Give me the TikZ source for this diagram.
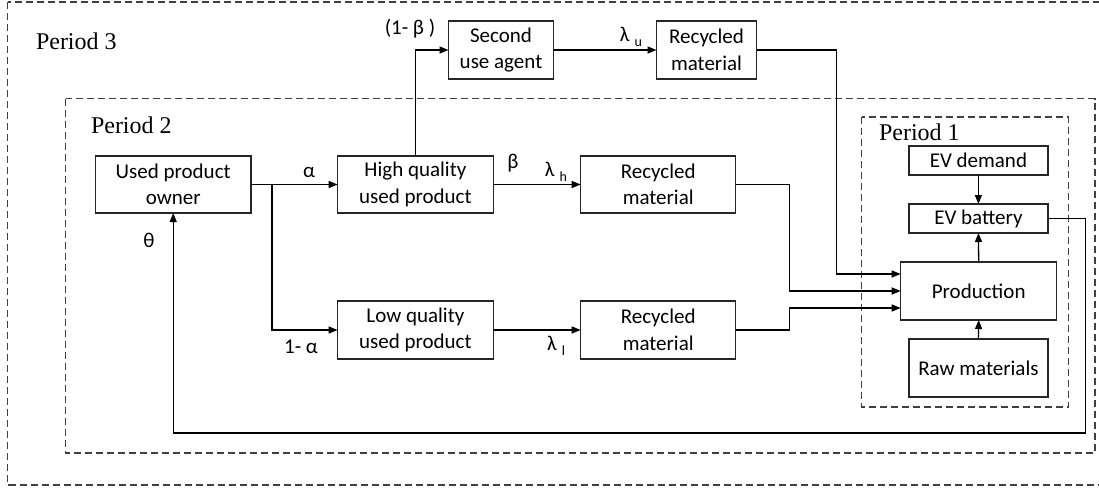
\documentclass[tikz,border=0pt]{standalone}
\usepackage{fontspec}
\setmainfont{Liberation Serif}
\newfontfamily\boxfont{Carlito}
\usetikzlibrary{arrows.meta,calc}
\begin{document}
\begin{tikzpicture}[x=1pt,y=-1pt,
  every node/.style={inner sep=0pt, outer sep=0pt},
  blk/.style={draw=black!85, line width=1.2pt, align=center, font=\boxfont\fontsize{21}{26.5}\selectfont, fill=white},
  period/.style={draw=black!75, line width=1.1pt, dash pattern=on 7pt off 4pt},
  plabel/.style={anchor=west, font=\fontsize{24}{28}\selectfont},
  glabel/.style={font=\boxfont\fontsize{21}{24}\selectfont},
  conn/.style={line width=1.3pt},
  arr/.style={conn, -{Triangle[length=9pt,width=7pt]}}
]
\useasboundingbox (0,0) rectangle (1099,488);
\fill[white] (0,0) rectangle (1099,488);
% period frames
\draw[period] (7.5,2) rectangle (1110,485);
\draw[period] (65.6,98.5) rectangle (1095,453);
\draw[period] (861.6,117) rectangle (1068.2,407);
\node[plabel] (p3) at (36,41) {Period 3};
\node[plabel] (p2) at (91,125) {Period 2};
\node[plabel] (p1) at (879,132) {Period 1};
% blocks
\node[blk, minimum width=155.6pt, minimum height=57pt] (owner) at (173.2,184.5) {Used product\\owner};
\node[blk, minimum width=155.6pt, minimum height=57pt] (hq) at (415.4,184.5) {High quality\\used product};
\node[blk, minimum width=105pt, minimum height=58pt] (sua) at (501,50) {Second\\use agent};
\node[blk, minimum width=100pt, minimum height=58pt] (rt) at (706.5,50) {Recycled\\material};
\node[blk, minimum width=155pt, minimum height=57pt] (rm) at (658.2,184.5) {Recycled\\material};
\node[blk, minimum width=155.6pt, minimum height=58pt] (lq) at (415.4,330) {Low quality\\used product};
\node[blk, minimum width=155pt, minimum height=58pt] (rl) at (658.2,330) {Recycled\\material};
\node[blk, minimum width=139pt, minimum height=29pt] (evd) at (978.4,160.5) {EV demand};
\node[blk, minimum width=139pt, minimum height=29pt] (evb) at (978.4,218.5) {EV battery};
\node[blk, minimum width=156pt, minimum height=58pt] (prod) at (978.7,291) {Production};
\node[blk, minimum width=139pt, minimum height=58pt] (raw) at (978.4,368) {Raw materials};
% helper coordinates
\coordinate (br) at (272,184.5);
\coordinate (pin1) at ([yshift=17pt]prod.west);
\coordinate (pin3) at ([yshift=-17pt]prod.west);
\coordinate (v1) at (836.4,274);
\coordinate (v2) at (789.8,291);
\coordinate (v3) at (789.8,308);
\coordinate (fb) at (1085.7,433);
% connectors
\draw[arr] (owner.east) -- (hq.west);
\draw[arr] (br) |- (lq.west);
\draw[arr] (hq.north) |- (sua.west);
\draw[arr] (sua.east) -- (rt.west);
\draw[arr] (hq.east) -- (rm.west);
\draw[arr] (lq.east) -- (rl.west);
\draw[arr] (rt.east) -| (v1) -- (pin1);
\draw[arr] (rm.east) -| (v2) -- (prod.west);
\draw[arr] (rl.east) -| (v3) -- (pin3);
\draw[arr] (evd.south) -- (evb.north);
\draw[arr] (prod.north) -- (evb.south);
\draw[arr] (raw.north) -- (prod.south);
\draw[arr] (evb.east) -| (fb) -| (owner.south);
% labels
\node[glabel] (la) at (309,172) {α};
\node[glabel] (l1a) at (301,347) {1- α};
\node[glabel] (l1b) at (410,29) {(1- β )};
\node[glabel] (lu) at (631,37) {λ\hspace{5pt}\raisebox{-5pt}{\fontsize{14}{14}\selectfont u}};
\node[glabel] (lb) at (513,163) {β};
\node[glabel] (lh) at (556,172) {λ\hspace{5pt}\raisebox{-5pt}{\fontsize{14}{14}\selectfont h}};
\node[glabel] (ll) at (556,346) {λ\hspace{5pt}\raisebox{-5pt}{\fontsize{14}{14}\selectfont l}};
\node[glabel] (lt) at (149,240) {θ};
\end{tikzpicture}
\end{document}
